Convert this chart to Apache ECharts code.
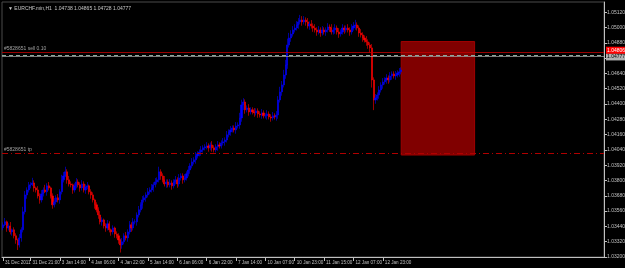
<!DOCTYPE html>
<html><head><meta charset="utf-8">
<script src="https://cdn.jsdelivr.net/npm/echarts@6/dist/echarts.min.js"></script>
<style>html,body{margin:0;padding:0;background:#000;}#c{width:625px;height:268px;}</style>
</head><body><div id="c"></div>
<script>
// ---- data ----
const titleText = '\u25BC EURCHF.min,H1  1.04738 1.04865 1.04728 1.04777';
const firstOpen = 1.03430;
const closes = [
1.03452,1.03476,1.03428,1.03444,1.03397,1.03413,1.03366,1.03334,1.03295,1.03350,
1.03413,1.03554,1.03687,1.03726,1.03758,1.03766,1.03781,1.03742,1.03726,1.03679,
1.03648,1.03695,1.03726,1.03711,1.03758,1.03742,1.03679,1.03609,1.03632,1.03664,
1.03648,1.03711,1.03805,1.03836,1.03868,1.03805,1.03773,1.03766,1.03726,1.03758,
1.03789,1.03766,1.03742,1.03773,1.03726,1.03750,1.03758,1.03711,1.03687,1.03648,
1.03609,1.03570,1.03530,1.03476,1.03491,1.03444,1.03428,1.03460,1.03413,1.03397,
1.03428,1.03381,1.03366,1.03334,1.03295,1.03319,1.03366,1.03350,1.03397,1.03452,
1.03428,1.03476,1.03476,1.03530,1.03570,1.03609,1.03648,1.03664,1.03687,1.03711,
1.03726,1.03742,1.03766,1.03789,1.03805,1.03868,1.03836,1.03805,1.03773,1.03789,
1.03766,1.03781,1.03758,1.03789,1.03805,1.03773,1.03820,1.03836,1.03805,1.03820,
1.03852,1.03883,1.03915,1.03946,1.03962,1.03993,1.04009,1.04024,1.04040,1.04056,
1.04064,1.04071,1.04056,1.04079,1.04056,1.04040,1.04064,1.04079,1.04071,1.04095,
1.04103,1.04118,1.04158,1.04181,1.04197,1.04212,1.04197,1.04228,1.04236,1.04291,
1.04393,1.04416,1.04354,1.04369,1.04338,1.04354,1.04338,1.04330,1.04346,1.04322,
1.04314,1.04330,1.04307,1.04307,1.04322,1.04299,1.04291,1.04307,1.04299,1.04314,
1.04432,1.04495,1.04550,1.04628,1.04706,1.04863,1.04918,1.04949,1.04981,1.04996,
1.05020,1.05044,1.05059,1.05044,1.05059,1.05044,1.05012,1.05028,1.05012,1.04996,
1.04981,1.04965,1.04981,1.04957,1.04981,1.04965,1.04981,1.05004,1.04996,1.04965,
1.04981,1.04996,1.04965,1.04949,1.04965,1.04996,1.04981,1.04996,1.04981,1.04965,
1.04996,1.05012,1.05020,1.04996,1.04957,1.04942,1.04918,1.04902,1.04887,1.04863,
1.04840,1.04589,1.04432,1.04448,1.04471,1.04510,1.04550,1.04573,1.04589,1.04604,
1.04589,1.04620,1.04636,1.04620,1.04628,1.04644,1.04652,1.04667
];
// wick lengths in pips (0.0001)
const wickUp = [
2,3,1,2,3,1,2,2,1,3, 2,4,3,2,3,2,4,2,1,3, 2,3,2,4,2,3,1,2,3,2, 3,2,4,3,4,2,3,2,1,2,
3,2,2,3,2,2,3,1,2,2, 1,2,2,3,2,1,2,3,2,1, 2,1,2,2,1,3,2,3,2,3, 2,3,2,2,3,2,3,2,2,3,
2,3,2,3,2,4,2,2,3,2, 2,3,2,2,3,2,3,2,2,3, 2,3,2,3,2,3,2,2,3,2, 2,3,2,2,3,2,2,3,2,2,
3,2,3,2,3,2,2,3,2,4, 4,3,2,2,3,2,2,3,2,2, 2,3,2,2,3,2,2,3,2,3, 3,4,3,4,4,5,4,3,3,3,
3,3,4,3,3,2,3,2,3,2, 3,2,3,2,3,2,2,3,2,3, 2,3,2,3,2,3,2,2,3,2, 3,3,4,2,2,3,2,2,3,2,
2,3,2,3,2,3,2,3,2,3, 2,3,2,2,3,2,3,2
];
const wickDn = [
2,1,3,2,2,3,2,3,4,2, 3,2,2,3,2,2,1,3,2,2, 3,2,2,1,3,2,2,3,2,2, 2,3,2,2,1,3,2,2,3,2,
2,2,3,2,2,3,2,2,3,2, 3,2,3,2,3,2,3,2,2,3, 2,3,2,3,6,3,2,2,3,2, 3,2,2,3,2,2,3,2,3,2,
2,2,3,2,2,2,3,2,2,3, 2,2,3,2,2,3,2,2,3,2, 2,2,3,2,2,3,2,2,3,2, 2,2,3,2,3,2,2,3,2,2,
2,3,2,2,3,2,2,3,2,3, 3,4,3,2,3,2,2,3,2,3, 2,3,2,2,3,2,3,2,2,3, 3,2,3,2,3,3,2,3,2,2,
2,3,2,3,2,3,2,3,2,3, 2,3,2,3,2,2,3,2,3,2, 2,3,2,3,2,2,3,2,2,3, 2,2,3,2,3,2,3,2,3,3,
4,6,8,3,2,3,2,3,2,3, 3,2,3,2,3,2,3,2
];
const totalBars = 328;
const xTickBars = [0,15,31,47,63,79,95,111,127,143,159,175,191,207];
const xTickLabels = ['31 Dec 2011','31 Dec 21:00','3 Jan 14:00','4 Jan 06:00','4 Jan 22:00','5 Jan 14:00','6 Jan 06:00','6 Jan 22:00','7 Jan 14:00','10 Jan 07:00','10 Jan 23:00','11 Jan 15:00','12 Jan 07:00','12 Jan 23:00'];
const askPrice = 1.04806;
const bidPrice = 1.04777;
const orderPrice = 1.04782;
const tpPrice = 1.04016;
const orderLabel = '#5828651 sell 0.10';
const tpLabel = '#5828651 tp';
const zoneBars = [217, 257];
const zonePrices = [1.04890, 1.04000];
const yMin = 1.032, yMax = 1.052, yStep = 0.0012;

// ---- build ----
const FONT = '"Liberation Sans Narrow", "Liberation Sans", sans-serif';
const cats = [];
for (let i = 0; i < totalBars; i++) cats.push(String(i));
const labelMap = {};
xTickBars.forEach((b, k) => { labelMap[b] = xTickLabels[k]; });
const candles = closes.map((c, i) => {
  const o = i === 0 ? firstOpen : closes[i - 1];
  const hi = Math.max(o, c) + wickUp[i] * 0.0001;
  const lo = Math.min(o, c) - wickDn[i] * 0.0001;
  return [o, c, lo, hi];
});

const chart = echarts.init(document.getElementById('c'), null, {renderer: 'canvas'});
chart.setOption({
  backgroundColor: '#000',
  animation: false,
  title: {
    text: titleText, left: 3, top: 1,
    textStyle: {color: '#c8c8c8', fontSize: 5, fontWeight: 'normal', fontFamily: FONT}
  },
  grid: {left: 2, right: 21, top: 2, bottom: 11, show: true, borderColor: '#4a4a4a', borderWidth: 1,
         containLabel: false, outerBoundsMode: 'none'},
  xAxis: {
    type: 'category', data: cats, boundaryGap: true,
    axisLine: {show: true, lineStyle: {color: '#c0c0c0', width: 1}},
    axisTick: {show: true, length: 4, alignWithLabel: true, interval: (i) => labelMap[i] !== undefined, lineStyle: {color: '#c0c0c0'}},
    axisLabel: {
      show: true, interval: (i) => labelMap[i] !== undefined, hideOverlap: false, showMinLabel: true,
      formatter: (v, i) => labelMap[i] || '',
      align: 'left', margin: 3, padding: [0, 0, 0, 2],
      color: '#c0c0c0', fontSize: 4.6, fontFamily: FONT
    },
    splitLine: {show: false}
  },
  yAxis: {
    type: 'value', position: 'right', min: yMin, max: yMax, interval: yStep, scale: true,
    axisLine: {show: true, lineStyle: {color: '#c0c0c0', width: 1}},
    axisTick: {show: true, length: 3, lineStyle: {color: '#c0c0c0'}},
    axisLabel: {
      color: '#c0c0c0', fontSize: 5, margin: 3, fontFamily: FONT,
      showMaxLabel: false, formatter: (v) => v.toFixed(5)
    },
    splitLine: {show: false}
  },
  series: [{
    type: 'candlestick',
    data: candles,
    barWidth: 1.6,
    itemStyle: {color: '#0000ff', color0: '#ff0000', borderColor: '#0000ff', borderColor0: '#ff0000', borderWidth: 0.6},
    markArea: {
      silent: true, precision: 6,
      itemStyle: {color: '#800000', opacity: 1, borderColor: '#a00000', borderWidth: 1},
      data: [[{xAxis: zoneBars[0], yAxis: zonePrices[0]}, {xAxis: zoneBars[1], yAxis: zonePrices[1]}]]
    },
    markLine: {
      silent: true, symbol: 'none', animation: false, precision: 6,
      data: [
        {yAxis: tpPrice, lineStyle: {color: '#b00000', type: [6, 3, 1, 3], width: 1},
         label: {show: true, position: 'insideStartTop', formatter: tpLabel, color: '#a0a0a0', fontSize: 5, fontFamily: FONT, distance: [2, 1]}},
        {yAxis: orderPrice, lineStyle: {color: '#8fa89a', type: [4, 3], width: 1},
         label: {show: false}},
        {yAxis: bidPrice, lineStyle: {color: '#9a9a9a', type: 'solid', width: 0.8},
         label: {show: true, position: 'end', formatter: bidPrice.toFixed(5), color: '#000', backgroundColor: '#b0b0b0', fontSize: 5, fontFamily: FONT, padding: [1, 1], distance: 2, offset: [0, 1]}},
        {yAxis: askPrice, lineStyle: {color: '#c00000', type: 'solid', width: 0.8},
         label: {show: true, position: 'insideStartTop', formatter: orderLabel, color: '#a0a0a0', fontSize: 5, fontFamily: FONT, distance: [2, 1]}},
        {yAxis: askPrice, lineStyle: {color: 'rgba(0,0,0,0)', width: 0},
         label: {show: true, position: 'end', formatter: askPrice.toFixed(5), color: '#fff', backgroundColor: '#ff0000', fontSize: 5, fontFamily: FONT, padding: [1, 1], distance: 2, offset: [0, -2]}}
      ]
    }
  }]
});
</script></body></html>
